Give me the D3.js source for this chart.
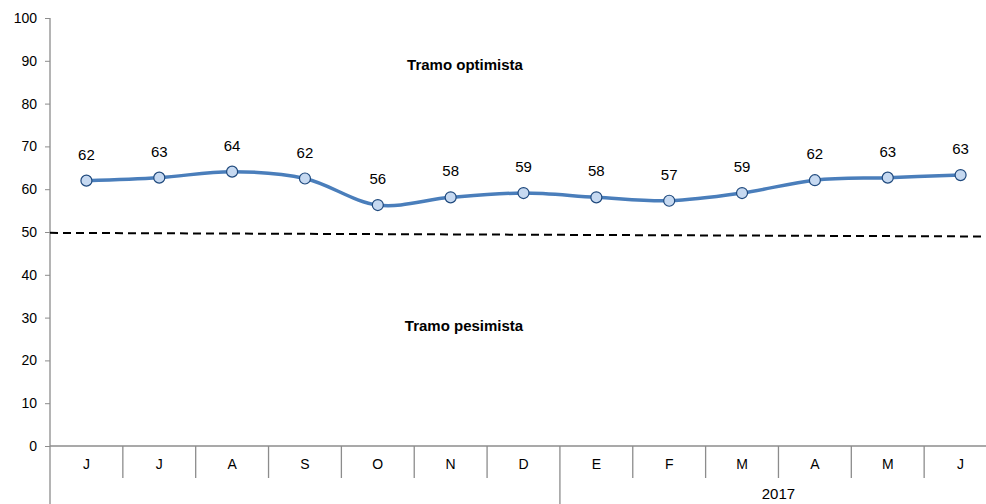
<!DOCTYPE html>
<html>
<head>
<meta charset="utf-8">
<script src="https://cdn.jsdelivr.net/npm/d3@7"></script>
<style>
  body { margin: 0; background: #fff; }
  text { font-family: "Liberation Sans", Arial, sans-serif; fill: #000; }
</style>
</head>
<body>
<div id="chart"></div>
<script>
// data
var months = ["J", "J", "A", "S", "O", "N", "D", "E", "F", "M", "A", "M", "J"];
var values = [62.0, 62.7, 64.1, 62.5, 56.3, 58.1, 59.1, 58.1, 57.3, 59.1, 62.1, 62.7, 63.3];
var labels = ["62", "63", "64", "62", "56", "58", "59", "58", "57", "59", "62", "63", "63"];
var yTicks = [0, 10, 20, 30, 40, 50, 60, 70, 80, 90, 100];
var years = [{ label: "", from: 0, to: 7 }, { label: "2017", from: 7, to: 13 }];
var dashLine = [49.8, 48.95];   // value at left axis, value at right edge

var W = 986, H = 504;
var plotLeft = 50, plotRight = 997, plotTop = 18, plotBottom = 446;

var svg = d3.select("#chart").append("svg")
    .attr("width", W).attr("height", H);

var x = d3.scaleBand().domain(d3.range(months.length)).range([plotLeft, plotRight]).padding(0);
var y = d3.scaleLinear().domain([0, 100]).range([plotBottom, plotTop]);

var axisColor = "#8c8c8c";

// y axis
var yAxis = svg.append("g").attr("transform", "translate(" + plotLeft + ",0)")
    .call(d3.axisLeft(y).tickValues(yTicks).tickSize(5).tickPadding(8));
yAxis.select(".domain").remove();
yAxis.selectAll(".tick line").attr("stroke", axisColor);
yAxis.selectAll(".tick text").style("font-size", "14px").style("font-family", "Liberation Sans, Arial, sans-serif");
svg.append("line").attr("x1", plotLeft).attr("x2", plotLeft).attr("y1", plotTop).attr("y2", H)
    .attr("stroke", axisColor).attr("stroke-width", 1.3);

// x axis baseline and category separators
svg.append("line").attr("x1", plotLeft).attr("x2", W).attr("y1", plotBottom).attr("y2", plotBottom)
    .attr("stroke", axisColor).attr("stroke-width", 1.3);
svg.selectAll(".sep").data(d3.range(1, months.length)).enter().append("line")
    .attr("x1", function(i) { return x(i); }).attr("x2", function(i) { return x(i); })
    .attr("y1", plotBottom)
    .attr("y2", function(i) { return years.some(function(g) { return g.from === i; }) ? H : plotBottom + 32; })
    .attr("stroke", axisColor).attr("stroke-width", 1.3);

svg.selectAll(".month").data(months).enter().append("text")
    .attr("x", function(d, i) { return x(i) + x.bandwidth() / 2; })
    .attr("y", plotBottom + 23)
    .attr("text-anchor", "middle").style("font-size", "14px")
    .text(function(d) { return d; });

svg.selectAll(".year").data(years).enter().append("text")
    .attr("x", function(g) { return (x(g.from) + x(g.to - 1) + x.bandwidth()) / 2; })
    .attr("y", plotBottom + 53)
    .attr("text-anchor", "middle").style("font-size", "15px")
    .text(function(g) { return g.label; });

// dashed threshold line
svg.append("line")
    .attr("x1", plotLeft).attr("x2", W)
    .attr("y1", y(dashLine[0])).attr("y2", y(dashLine[1]))
    .attr("stroke", "#000").attr("stroke-width", 2)
    .attr("stroke-dasharray", "8,5");

// zone labels
svg.append("text").attr("x", 465).attr("y", 70).attr("text-anchor", "middle")
    .style("font-size", "15px").style("font-weight", "bold").text("Tramo optimista");
svg.append("text").attr("x", 464).attr("y", 331).attr("text-anchor", "middle")
    .style("font-size", "15px").style("font-weight", "bold").text("Tramo pesimista");

// series line
var line = d3.line()
    .x(function(d, i) { return x(i) + x.bandwidth() / 2; })
    .y(function(d) { return y(d); })
    .curve(d3.curveCatmullRom.alpha(0.5));

svg.append("path").datum(values)
    .attr("d", line).attr("fill", "none")
    .attr("stroke", "#4a7ebb").attr("stroke-width", 3.5);

svg.selectAll(".pt").data(values).enter().append("circle")
    .attr("cx", function(d, i) { return x(i) + x.bandwidth() / 2; })
    .attr("cy", function(d) { return y(d); })
    .attr("r", 5.5)
    .attr("fill", "#c6d9f1").attr("stroke", "#1f497d").attr("stroke-width", 1.2);

svg.selectAll(".lbl").data(values).enter().append("text")
    .attr("x", function(d, i) { return x(i) + x.bandwidth() / 2; })
    .attr("y", function(d) { return y(d) - 21; })
    .attr("text-anchor", "middle").style("font-size", "15px")
    .text(function(d, i) { return labels[i]; });
</script>
</body>
</html>
